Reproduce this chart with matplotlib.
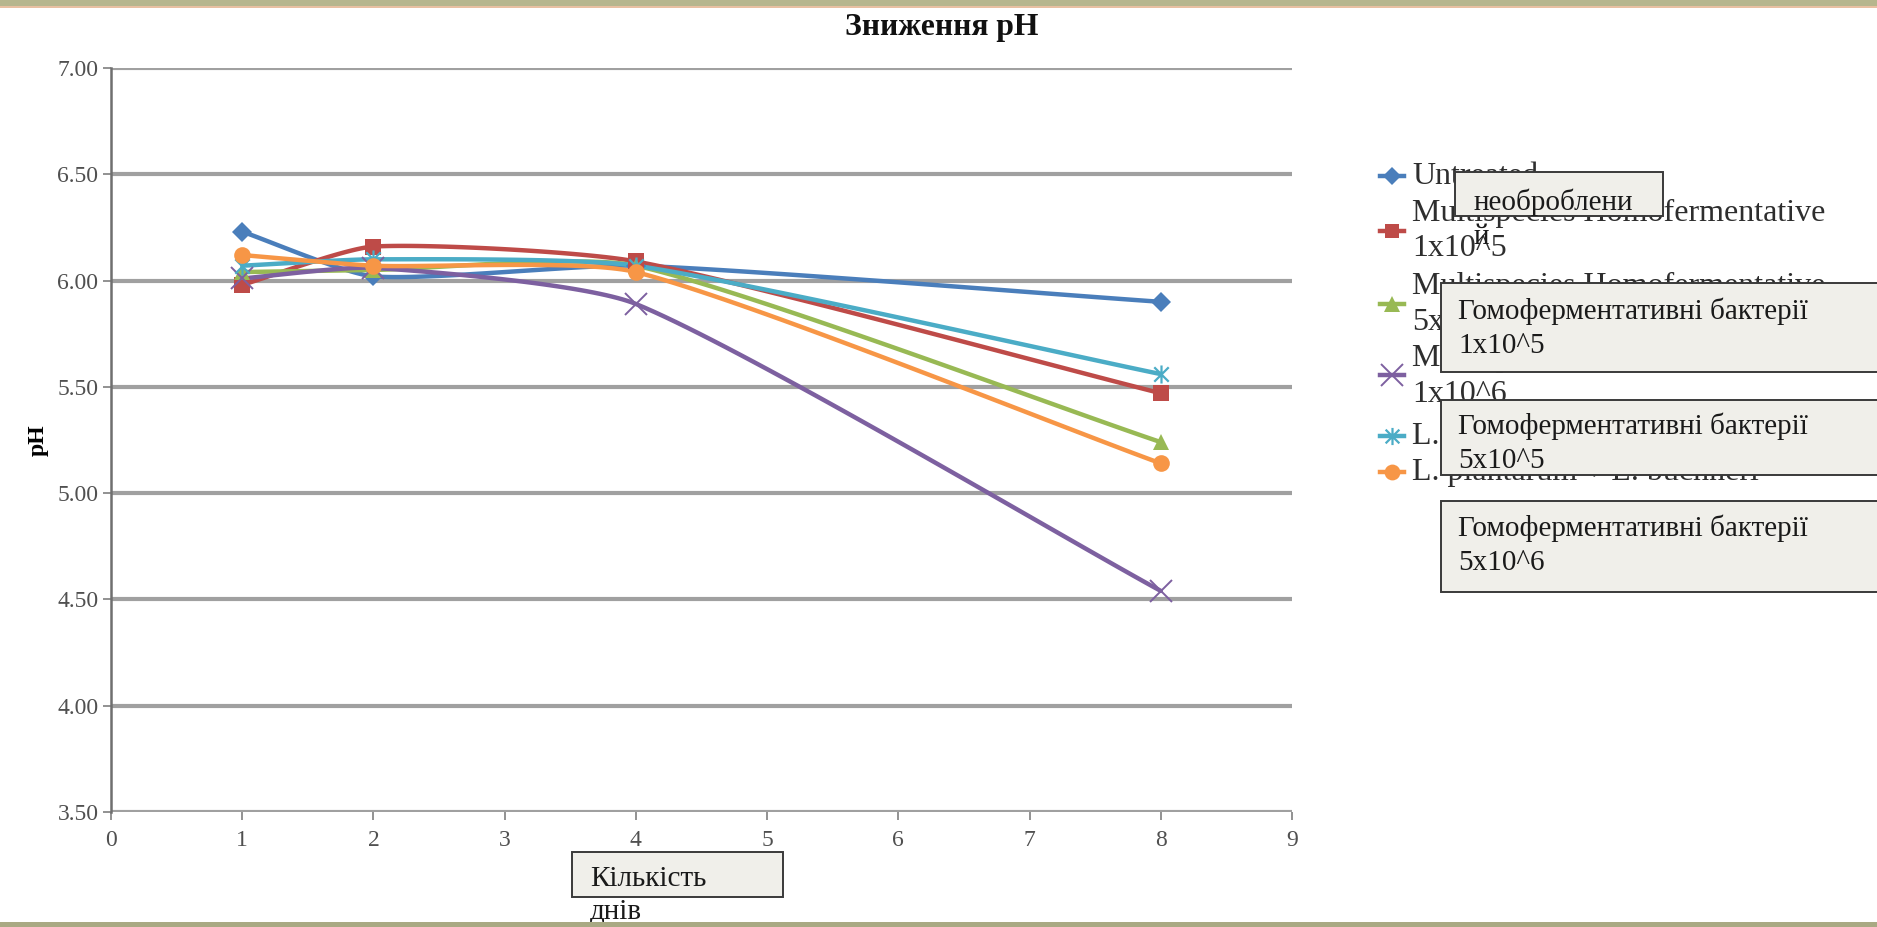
import numpy as np
import matplotlib
matplotlib.use("Agg")
import matplotlib.pyplot as plt
from matplotlib.patches import Rectangle
from matplotlib.lines import Line2D
from matplotlib.path import Path

# ---- data -------------------------------------------------------------
days = [1, 2, 4, 8]
untreated = [6.23, 6.02, 6.07, 5.90]
homo_1e5 = [5.98, 6.16, 6.09, 5.47]
homo_5e5 = [6.04, 6.05, 6.07, 5.24]
homo_1e6 = [6.01, 6.06, 5.89, 4.54]
buchneri = [6.07, 6.10, 6.07, 5.56]
plant_buch = [6.12, 6.07, 6.04, 5.14]

series_labels = [
    ["Untreated"],
    ["Multispecies Homofermentative", "1x10^5"],
    ["Multispecies Homofermentative", "5x10^5"],
    ["Multispecies Homofermentative", "1x10^6"],
    ["L. buchneri"],
    ["L. plantarum + L. buchneri"],
]
title = "Зниження pH"
y_label = "pH"
y_ticks = [3.5, 4.0, 4.5, 5.0, 5.5, 6.0, 6.5, 7.0]
x_ticks = list(range(0, 10))
callouts = [
    "необроблени\nй",
    "Гомоферментативні бактерії\n1x10^5",
    "Гомоферментативні бактерії\n5x10^5",
    "Гомоферментативні бактерії\n5x10^6",
]
x_callout = "Кількість\nднів"

# ---- styling ----------------------------------------------------------
W, H = 1877, 927
DPI = 100
SERIF = ["Liberation Serif", "DejaVu Serif"]

star_verts = [(-1, -1), (1, 1), (-1, 1), (1, -1), (0, -1.25), (0, 1.25)]
star_codes = [Path.MOVETO, Path.LINETO] * 3
star_marker = Path(star_verts, star_codes)

styles = [
    dict(color="#4a7ebb", marker="D", ms=10, mew=0),
    dict(color="#be4b48", marker="s", ms=11, mew=0),
    dict(color="#98b954", marker="^", ms=12, mew=0),
    dict(color="#7d60a0", marker="x", ms=16, mew=1.4),
    dict(color="#4bacc6", marker=star_marker, ms=13, mew=1.6),
    dict(color="#f79646", marker="o", ms=12, mew=0),
]
all_series = [untreated, homo_1e5, homo_5e5, homo_1e6, buchneri, plant_buch]

fig = plt.figure(figsize=(W / DPI, H / DPI), dpi=DPI, facecolor="white")


def px_box(x0, y0, x1, y1):
    """Convert pixel box (top-left origin) into figure fraction rect."""
    return [x0 / W, 1 - y1 / H, (x1 - x0) / W, (y1 - y0) / H]


ax = fig.add_axes(px_box(111, 68, 1292, 812))
ax.set_xlim(0, 9)
ax.set_ylim(3.5, 7.0)
ax.set_facecolor("white")

for v in y_ticks:
    ax.axhline(v, color="#a0a0a0", lw=3.0, zorder=1)

for s in ["top", "right", "bottom"]:
    ax.spines[s].set_visible(False)
ax.spines["left"].set_color("#6f6f6f")
ax.spines["left"].set_linewidth(1.8)

ax.set_yticks(y_ticks)
ax.set_yticklabels([f"{v:.2f}" for v in y_ticks])
ax.set_xticks(x_ticks)
ax.set_xticklabels([str(v) for v in x_ticks])
ax.tick_params(axis="both", direction="out", length=6, width=1.2,
               color="#7f7f7f", labelcolor="#505050", labelsize=17)
ax.tick_params(axis="x", pad=7)
ax.tick_params(axis="y", pad=3)
for lab in ax.get_xticklabels() + ax.get_yticklabels():
    lab.set_family(SERIF)

ax.set_ylabel(y_label, fontsize=17, fontweight="bold", family=SERIF,
              labelpad=6)


def smooth_curve(xs, ys, k=0.2, steps=40):
    """Smoothed line through the points, built in display space."""
    pts = ax.transData.transform(np.column_stack([xs, ys]))
    n = len(pts)

    def unit(v):
        norm = np.hypot(*v)
        return v / norm if norm else v

    out = []
    for i in range(n - 1):
        p0 = pts[i - 1] if i > 0 else pts[i]
        p1 = pts[i]
        p2 = pts[i + 1]
        p3 = pts[i + 2] if i + 2 < n else pts[i + 1]
        seg = np.hypot(*(p2 - p1))
        c1 = p1 + unit(p2 - p0) * seg * k
        c2 = p2 - unit(p3 - p1) * seg * k
        t = np.linspace(0, 1, steps)[:, None]
        b = ((1 - t) ** 3) * p1 + 3 * ((1 - t) ** 2) * t * c1 \
            + 3 * (1 - t) * t ** 2 * c2 + t ** 3 * p2
        out.append(b if i == 0 else b[1:])
    curve = np.vstack(out)
    return ax.transData.inverted().transform(curve)


for vals, st in zip(all_series, styles):
    c = smooth_curve(days, vals)
    ax.plot(c[:, 0], c[:, 1], color=st["color"], lw=3.2, zorder=3,
            solid_capstyle="round")
    ax.plot(days, vals, ls="none", marker=st["marker"], ms=st["ms"],
            color=st["color"], mec=st["color"], mew=st["mew"], zorder=4)

# ---- title --------------------------------------------------------------
fig.text(942 / W, 1 - 27 / H, title, ha="center", va="center",
         fontsize=22.8, fontweight="bold", family=SERIF, color="#111111")

# ---- legend (drawn by hand) ---------------------------------------------
legend_rows = [
    (176, [176]),
    (231, [213, 249]),
    (304, [286, 322]),
    (375, [358, 394]),
    (436, [436]),
    (472, [472]),
]
for (my, text_ys), lines, st in zip(legend_rows, series_labels, styles):
    fig.add_artist(Line2D([1380 / W, 1404 / W], [1 - my / H, 1 - my / H],
                          color=st["color"], lw=3.2, zorder=5))
    fig.add_artist(Line2D([1392 / W], [1 - my / H], ls="none",
                          marker=st["marker"], ms=st["ms"] * 0.95,
                          color=st["color"], mec=st["color"],
                          mew=st["mew"], zorder=5))
    for ty, txt in zip(text_ys, lines):
        fig.text(1412 / W, 1 - ty / H, txt, ha="left", va="center",
                 fontsize=23, family=SERIF, color="#2e2e2e", zorder=5)

# ---- callout boxes --------------------------------------------------------
box_specs = [
    ((1455, 172, 1663, 216), (1474, 219), callouts[0], 1.42),
    ((1441, 283, 1900, 372), (1458, 328), callouts[1], 1.42),
    ((1441, 400, 1900, 475), (1458, 443), callouts[2], 1.42),
    ((1441, 501, 1900, 592), (1458, 545), callouts[3], 1.42),
    ((572, 852, 783, 897), (590, 895), x_callout, 1.3),
]
for (x0, y0, x1, y1), (tx, ty), txt, ls in box_specs:
    fig.add_artist(Rectangle((x0 / W, 1 - y1 / H), (x1 - x0) / W,
                             (y1 - y0) / H, transform=fig.transFigure,
                             facecolor="#f0efea", edgecolor="#3a3a3a",
                             lw=1.4, zorder=10))
    fig.text(tx / W, 1 - ty / H, txt, ha="left", va="center",
             fontsize=21, family=SERIF, color="#1a1a1a", zorder=11,
             linespacing=ls)

# ---- frame bands ----------------------------------------------------------
fig.add_artist(Rectangle((0, 1 - 6 / H), 1, 6 / H, transform=fig.transFigure,
                         facecolor="#b6b68e", edgecolor="none", zorder=20))
fig.add_artist(Rectangle((0, 1 - 8 / H), 1, 2 / H, transform=fig.transFigure,
                         facecolor="#e8c0a2", edgecolor="none", zorder=20))
fig.add_artist(Rectangle((0, 0), 1, 5 / H, transform=fig.transFigure,
                         facecolor="#a9a983", edgecolor="none", zorder=20))

fig.savefig("out.png", dpi=DPI, facecolor="white")
